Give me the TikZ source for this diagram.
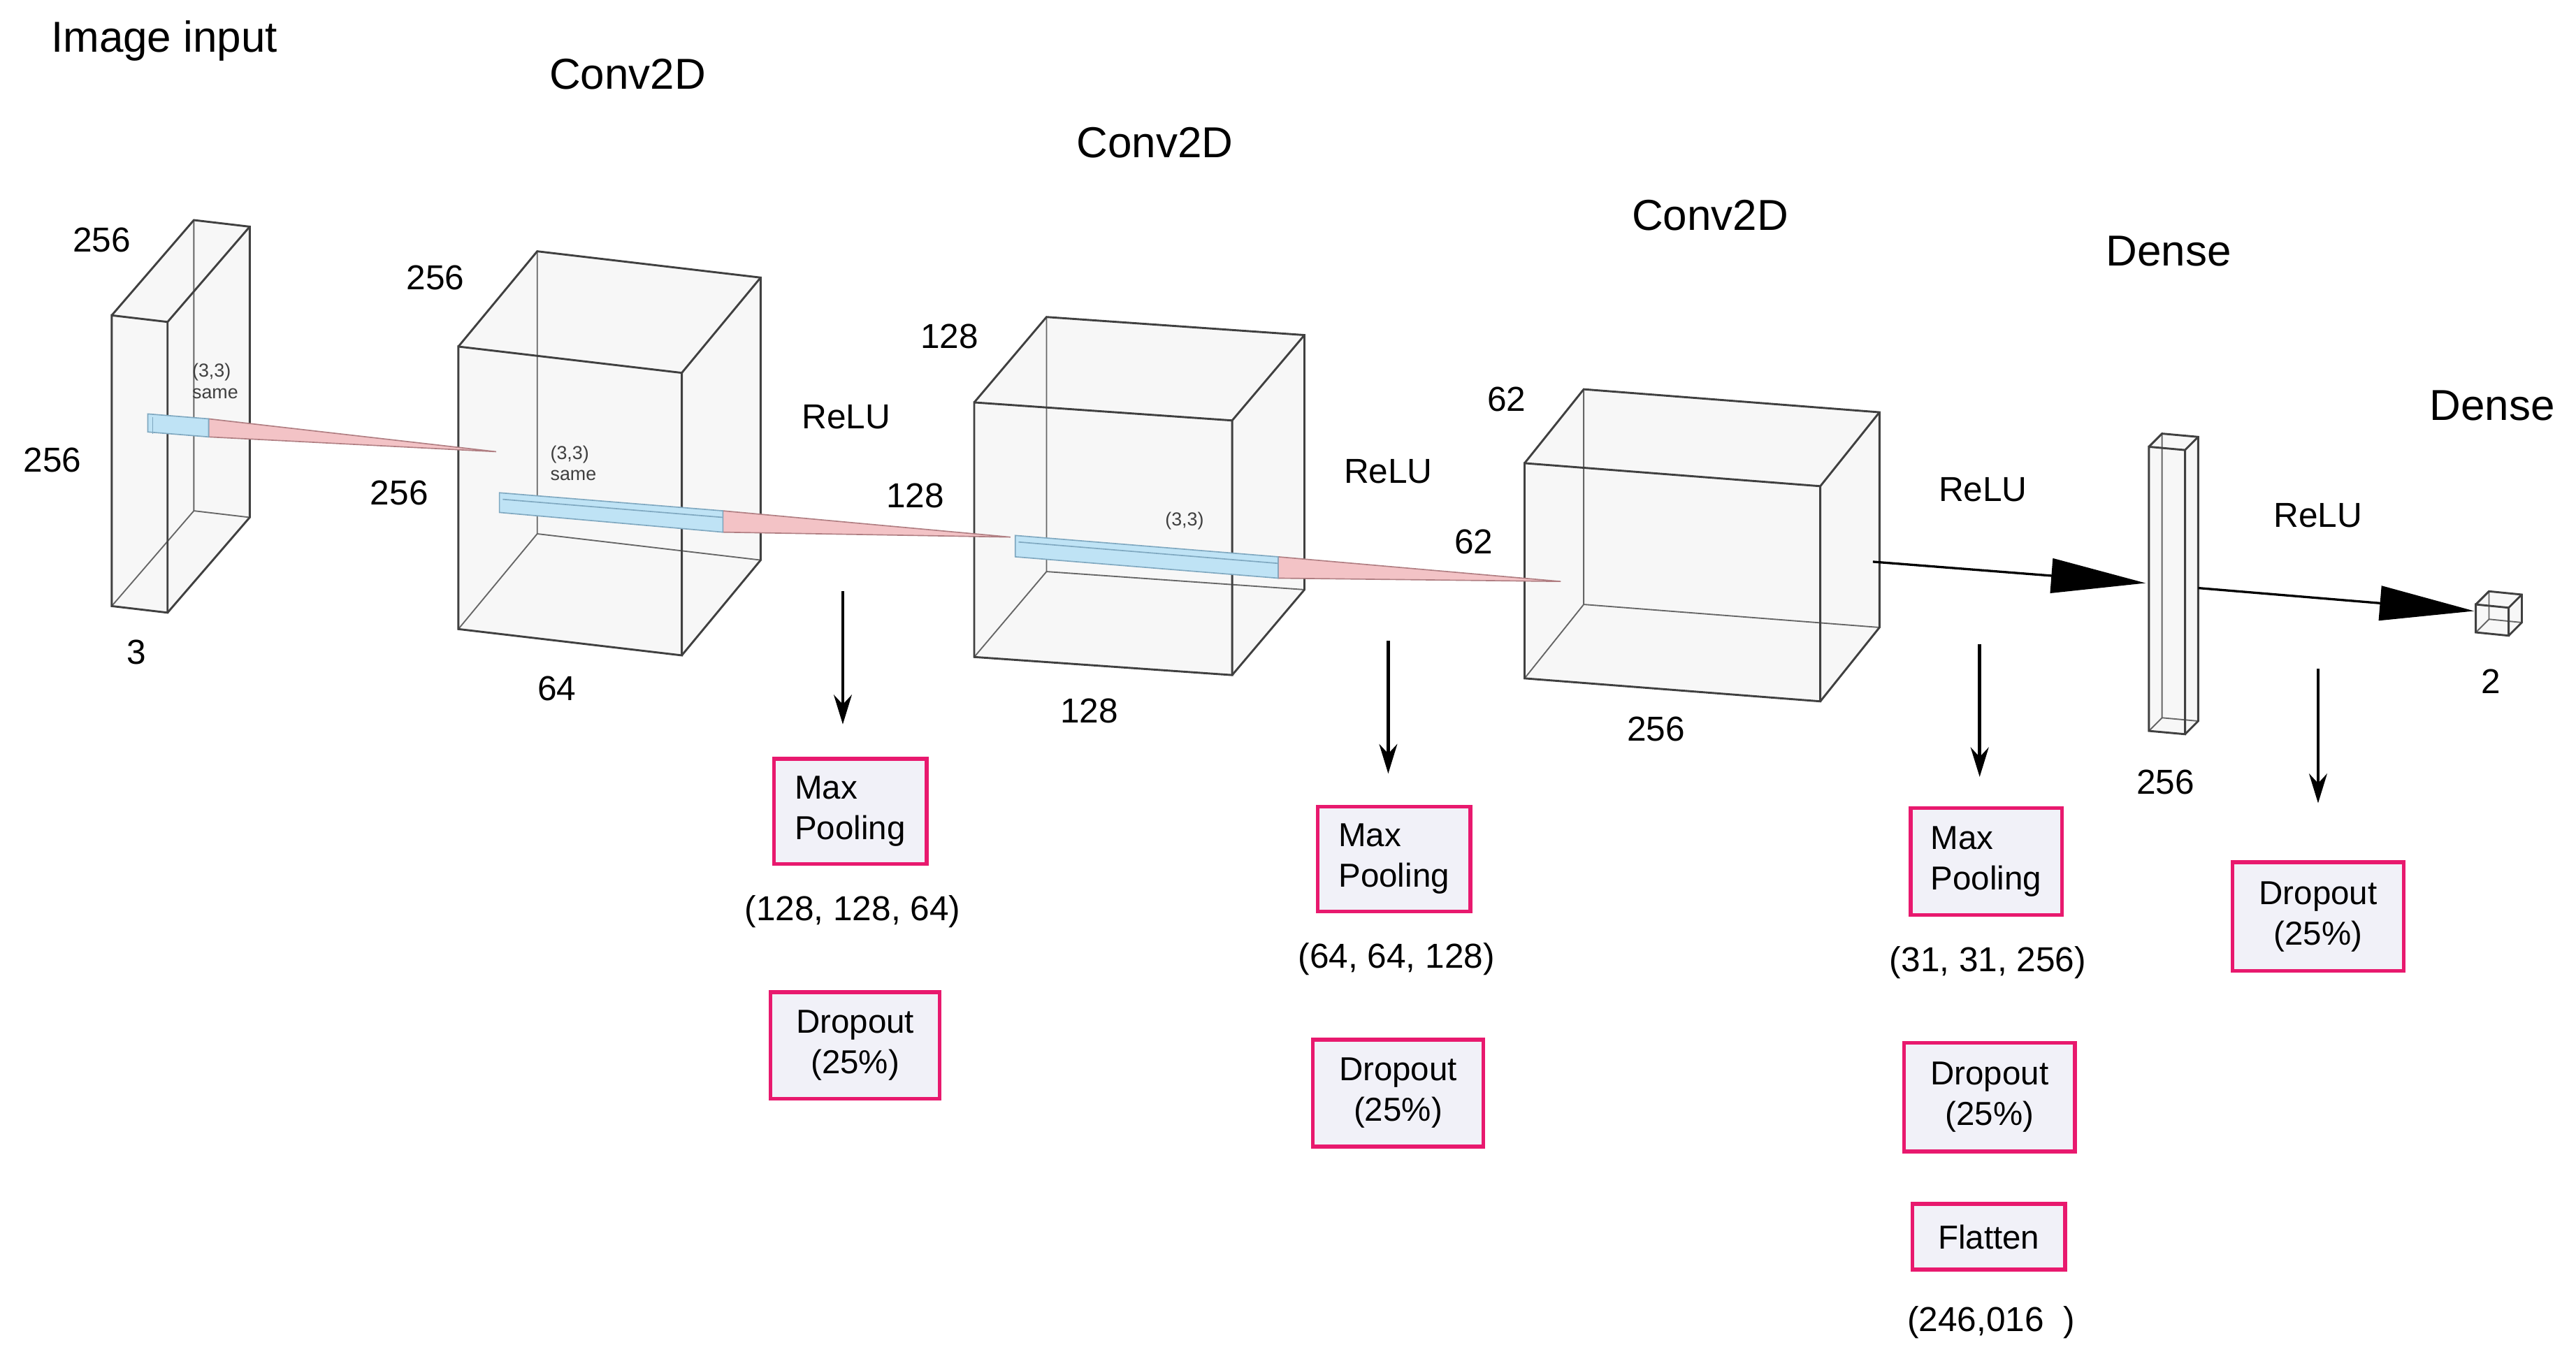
\documentclass[tikz,border=0pt]{standalone}
\usepackage{fontspec}
\setmainfont{Liberation Sans}
\usetikzlibrary{arrows.meta}
\definecolor{pinkb}{HTML}{E8196E}
\definecolor{boxfill}{HTML}{F1F1F8}
\definecolor{beamblue}{HTML}{BFE3F5}
\definecolor{beamblueE}{HTML}{7FA8C0}
\definecolor{beampink}{HTML}{F3C3C6}
\definecolor{beampinkE}{HTML}{B07E82}
\tikzset{
  title/.style={font=\fontsize{15}{18}\selectfont},
  dim/.style={font=\fontsize{12}{14}\selectfont},
  small/.style={font=\fontsize{6.5}{7.5}\selectfont, align=left, text=black!75},
  op/.style={draw=pinkb, line width=1.3pt, fill=boxfill, font=\fontsize{11.5}{14}\selectfont, inner sep=0pt},
  edge/.style={draw=black!75, line width=0.7pt},
  hid/.style={draw=black!60, line width=0.45pt},
  down/.style={-{Stealth[length=0.36cm,width=0.22cm]}, line width=1.1pt},
  flow/.style={-{Triangle[length=1.15cm,width=0.42cm]}, line width=0.8pt},
}
% \mycube{x}{y}{w}{h}{s}{dx}{dy}: front top-left corner, width, height, skew, depth offset
\newcommand\mycube[7]{%
  \fill[black!3] (#1,#2) -- ++(#6,#7) -- ++(#3,#5) -- ++(0,#4) -- ++(-#6,-#7) -- ++(-#3,-#5) -- cycle;
  \draw[hid] (#1+#6,#2+#7) -- ++(0,#4) -- ++(#3,#5);
  \draw[hid] (#1,#2+#4) -- ++(#6,#7);
  \draw[edge] (#1,#2) -- ++(#3,#5) -- ++(0,#4) -- ++(-#3,-#5) -- cycle;
  \draw[edge] (#1,#2) -- ++(#6,#7) -- ++(#3,#5) -- ++(0,#4) -- ++(-#6,-#7);
  \draw[edge] (#1+#3,#2+#5) -- ++(#6,#7);
}
\begin{document}
\begin{tikzpicture}[x=0.02cm,y=-0.02cm]
\useasboundingbox (0,0) rectangle (1568,827);

% ---- cuboids
\mycube{68}{192}{34}{177}{4}{50}{-58}
\mycube{279}{211}{136}{172}{16}{48}{-58}
\mycube{593}{245}{157}{155}{11}{44}{-52}
\mycube{928}{282}{180}{131}{14}{36}{-45}
\mycube{1308}{272}{22}{173}{2}{8}{-8}
\mycube{1507}{368}{20}{17}{2}{8}{-8}

% ---- kernel beams
\filldraw[fill=beampink, draw=beampinkE, line width=0.4pt] (127,255) -- (302,275) -- (127,266) -- cycle;
\filldraw[fill=beamblue, draw=beamblueE, line width=0.4pt] (90,252) -- (127,255) -- (127,266) -- (90,263) -- cycle;
\draw[beamblueE, line width=0.4pt] (93,254) -- (93,264);
\filldraw[fill=beampink, draw=beampinkE, line width=0.4pt] (440,311) -- (615,327) -- (440,324) -- cycle;
\filldraw[fill=beamblue, draw=beamblueE, line width=0.4pt] (304,300) -- (440,311) -- (440,324) -- (304,312) -- cycle;
\draw[beamblueE, line width=0.4pt] (306,304) -- (440,315);
\filldraw[fill=beampink, draw=beampinkE, line width=0.4pt] (778,339) -- (950,354) -- (778,352) -- cycle;
\filldraw[fill=beamblue, draw=beamblueE, line width=0.4pt] (618,326) -- (778,339) -- (778,352) -- (618,339) -- cycle;
\draw[beamblueE, line width=0.4pt] (620,330) -- (778,343);

% ---- titles
\node[title] (t0) at (100,25) {Image input};
\node[title] (t1) at (382,45) {Conv2D};
\node[title] (t2) at (703,87) {Conv2D};
\node[title] (t3) at (1041,131) {Conv2D};
\node[title] (t4) at (1320,153) {Dense};
\node[title] (t5) at (1517,247) {Dense};

% ---- dimension labels
\node[dim] (d01) at (62,146) {256};
\node[dim] (d02) at (32,280) {256};
\node[dim] (d03) at (83,397) {3};
\node[dim] (d11) at (265,169) {256};
\node[dim] (d12) at (243,300) {256};
\node[dim] (d13) at (339,419) {64};
\node[dim] (d21) at (578,205) {128};
\node[dim] (d22) at (557,302) {128};
\node[dim] (d23) at (663,433) {128};
\node[dim] (d31) at (917,243) {62};
\node[dim] (d32) at (897,330) {62};
\node[dim] (d33) at (1008,444) {256};
\node[dim] (d43) at (1318,476) {256};
\node[dim] (d53) at (1516,415) {2};

\node[dim] (r1) at (515,254) {ReLU};
\node[dim] (r2) at (845,287) {ReLU};
\node[dim] (r3) at (1207,298) {ReLU};
\node[dim] (r4) at (1411,314) {ReLU};

\node[small] (k1) at (131,232) {(3,3)\\same};
\node[small] (k2) at (349,282) {(3,3)\\same};
\node[small] (k3) at (721,317) {(3,3)};

% ---- flow arrows
\coordinate (a1s) at (1140,342);
\coordinate (a1e) at (1306,355);
\coordinate (a2s) at (1338,358);
\coordinate (a2e) at (1506,372);
\draw[flow] (a1s) -- (a1e);
\draw[flow] (a2s) -- (a2e);

% ---- operation boxes
\node[op, minimum width=1.86cm, minimum height=1.28cm, align=left] (mp1) at (517.5,494) {Max\\Pooling};
\node[dim] (s1) at (519,555) {(128, 128, 64)};
\node[op, minimum width=2.06cm, minimum height=1.3cm, align=center] (do1) at (520.5,636.5) {Dropout\\(25\%)};

\node[op, minimum width=1.86cm, minimum height=1.28cm, align=left] (mp2) at (848.5,523) {Max\\Pooling};
\node[dim] (s2) at (850,584) {(64, 64, 128)};
\node[op, minimum width=2.08cm, minimum height=1.3cm, align=center] (do2) at (851,665.5) {Dropout\\(25\%)};

\node[op, minimum width=1.84cm, minimum height=1.3cm, align=left] (mp3) at (1209,524.5) {Max\\Pooling};
\node[dim] (s3) at (1210,586) {(31, 31, 256)};
\node[op, minimum width=2.08cm, minimum height=1.32cm, align=center] (do3) at (1211,668) {Dropout\\(25\%)};
\node[op, minimum width=1.86cm, minimum height=0.8cm] (fl) at (1210.5,753) {Flatten};
\node[dim] (s4) at (1212,805) {(246,016~~)};

\node[op, minimum width=2.08cm, minimum height=1.32cm, align=center] (do4) at (1411,558) {Dropout\\(25\%)};

% ---- down arrows
\coordinate (v1) at (513,360); \coordinate (v1e) at (513,441);
\coordinate (v2) at (845,390); \coordinate (v2e) at (845,471);
\coordinate (v3) at (1205,392); \coordinate (v3e) at (1205,473);
\coordinate (v4) at (1411,407); \coordinate (v4e) at (1411,489);
\draw[down] (v1) -- (v1e);
\draw[down] (v2) -- (v2e);
\draw[down] (v3) -- (v3e);
\draw[down] (v4) -- (v4e);
\end{tikzpicture}
\end{document}
